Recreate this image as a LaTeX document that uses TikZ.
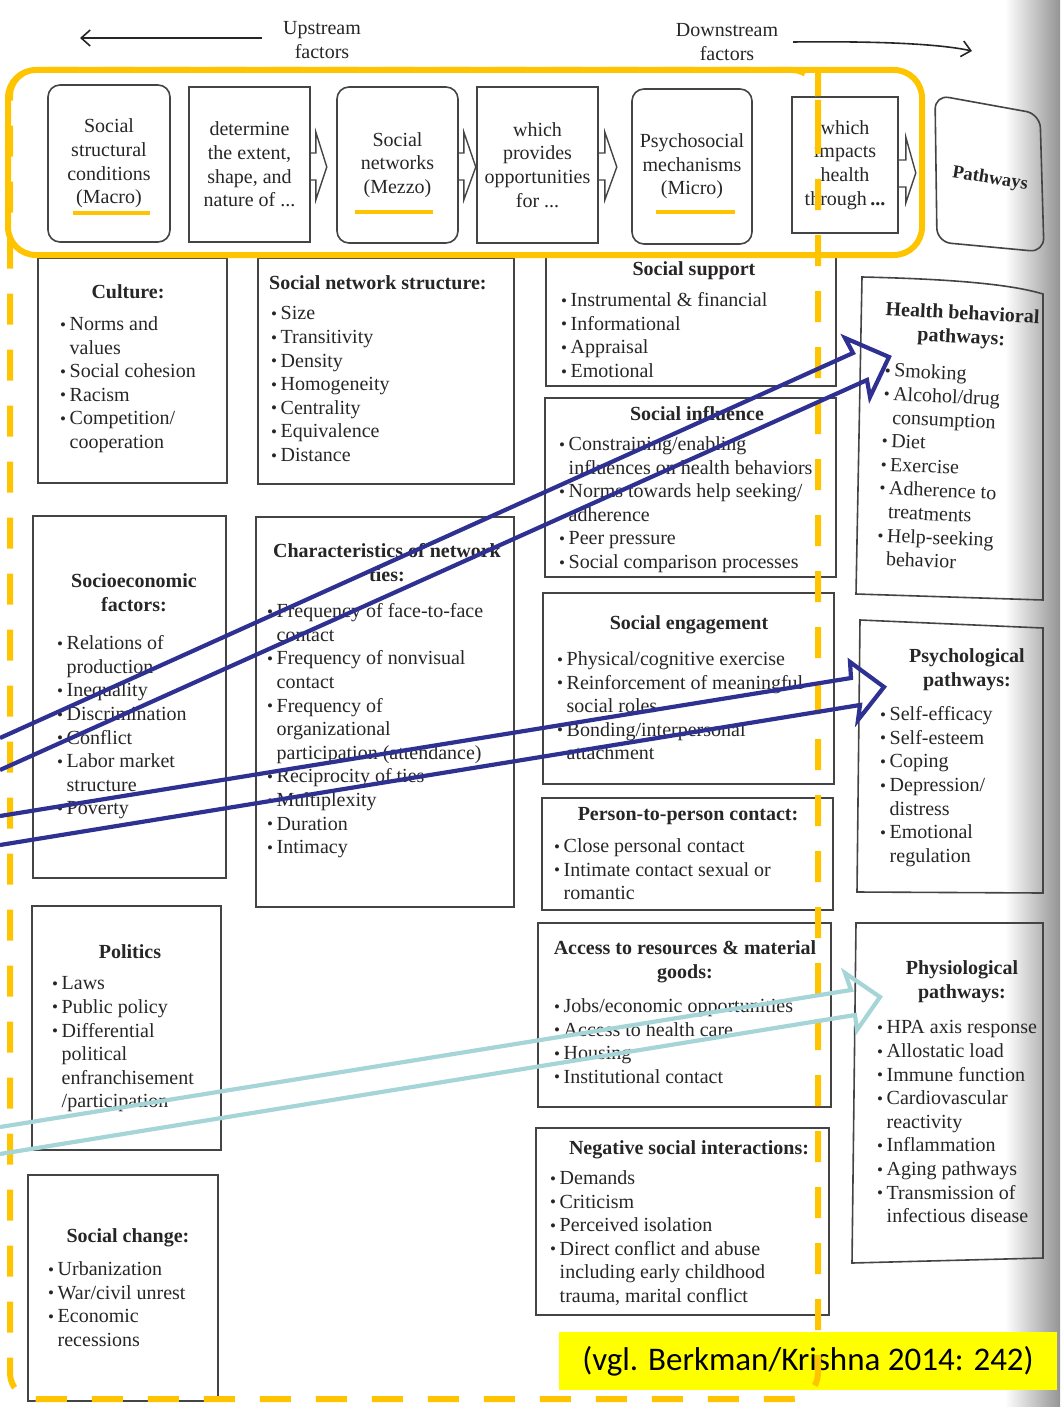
\documentclass[tikz,border=0pt]{standalone}
\usepackage{fontspec}
\setmainfont{Liberation Serif}
\newfontfamily\citefont{Carlito}
\usetikzlibrary{arrows.meta,fit}
\definecolor{ink}{HTML}{262626}
\definecolor{boxc}{HTML}{444444}
\definecolor{gold}{HTML}{FFC400}
\definecolor{navy}{RGB}{46,49,146}
\definecolor{lblue}{RGB}{166,213,216}
\definecolor{citey}{RGB}{255,255,0}
\newcommand\bul{\makebox[9.5pt][l]{\raisebox{0.5pt}{\fontsize{17}{17}\selectfont\textbullet}}}
\newcommand\indt{\hspace*{9.5pt}}
\begin{document}
\begin{tikzpicture}[x=1pt,y=-1pt,
  tx/.style={text=ink, inner sep=0pt, font=\fontsize{20}{23.6}\selectfont},
  lst/.style={tx, align=left, anchor=north west, yshift=6.5pt, execute at begin node=\strut},
  ttl/.style={tx, font=\fontsize{20}{23.6}\selectfont\bfseries, align=center, anchor=north, yshift=9.5pt, execute at begin node=\strut},
  ctr/.style={tx, align=center, anchor=north, yshift=5.5pt, execute at begin node=\strut},
  box/.style={draw=boxc, line width=1.6pt, inner sep=0pt},
  topbox/.style={box, tx, align=center},
  blk/.style={draw=boxc, line width=1.4pt, line join=miter},
  thinarr/.style={draw=ink, line width=1.6pt, -{Straight Barb[length=9pt,width=16pt]}},
  yel/.style={draw=gold, line width=6pt},
  yelund/.style={draw=gold, line width=4.5pt},
  dashyel/.style={yel, dash pattern=on 31pt off 25pt, rounded corners=26pt},
  navyarr/.style={draw=navy, line width=4.2pt, line join=miter, miter limit=20},
  lbluearr/.style={draw=lblue, line width=4.2pt, line join=miter, miter limit=20}
]
\useasboundingbox (0,0) rectangle (1060,1407);
\shade[left color=white, right color=black!42] (1005,0) rectangle (1060,1407);

% ---- header ----
\node[ctr] (up) at (322,27) {Upstream\\factors};
\node[ctr] (down) at (727,29) {Downstream\\factors};
\coordinate (upS) at (262,38);
\coordinate (upE) at (80,38);
\draw[thinarr] (upS) -- (upE);
\coordinate (dnS) at (793,42);
\coordinate (dnE) at (972,51);
\draw[thinarr] (dnS) .. controls (880,41) and (940,44) .. (dnE);

% ---- top row ----
\node[topbox, rounded corners=12pt, minimum width=122pt, minimum height=157pt] (b1) at (109,163.5) {Social\\structural\\conditions\\(Macro)};
\node[topbox, minimum width=121pt, minimum height=155pt] (b2) at (249.5,164.5) {determine\\the extent,\\shape, and\\nature of ...};
\node[topbox, rounded corners=12pt, minimum width=121pt, minimum height=156pt] (b3) at (397.5,165) {Social\\networks\\(Mezzo)};
\node[topbox, minimum width=121pt, minimum height=156pt] (b4) at (537.5,165) {which\\provides\\opportunities\\for ...};
\node[topbox, rounded corners=12pt, minimum width=120pt, minimum height=155pt] (b5) at (692,166.5) {Psychosocial\\mechanisms\\(Micro)};
\node[topbox, minimum width=106pt, minimum height=136pt] (b6) at (845,165) {which\\impacts\\health\\through\,\textbf{...}};

\draw[blk] ([yshift=11.5pt]b2.east) -- ++(5,0) -- ++(0,-21) -- ++(11,35) -- ++(-11,33) -- ++(0,-20) -- ++(-5,0);
\draw[blk] ([yshift=12pt]b3.east) -- ++(5,0) -- ++(0,-21) -- ++(12,35) -- ++(-12,33) -- ++(0,-20) -- ++(-5,0);
\draw[blk] ([yshift=12pt]b4.east) -- ++(6,0) -- ++(0,-21) -- ++(12,35) -- ++(-12,33) -- ++(0,-20) -- ++(-6,0);
\draw[blk] ([yshift=5pt]b6.east) -- ++(7,0) -- ++(0,-23) -- ++(10,36) -- ++(-10,30) -- ++(0,-16) -- ++(-7,0);

\draw[box, rounded corners=14pt] (935,95) -- (1040,114) -- (1044,252) -- (937,242) -- cycle;
\node[tx, font=\fontsize{18.5}{22}\selectfont\bfseries, rotate=-9] (path) at (990,179) {Pathways};

% ---- column 1 ----
\node[box, fit={(38,258) (227,483)}] (culture) {};
\node[ttl] (cultT) at (128,291) {Culture:};
\node[lst] (cultL) at (60,323) {\bul Norms and\\\indt values\\\bul Social cohesion\\\bul Racism\\\bul Competition/\\\indt cooperation};

\node[box, fit={(33,516) (226,878)}] (socio) {};
\node[ttl] (seT) at (134,583) {Socioeconomic\\factors:};
\node[lst] (seL) at (57,642) {\bul Relations of\\\indt production\\\bul Inequality\\\bul Discrimination\\\bul Conflict\\\bul Labor market\\\indt structure\\\bul Poverty};

\node[box, fit={(32,906) (221,1150)}] (politics) {};
\node[ttl] (polT) at (130,951) {Politics};
\node[lst] (polL) at (52,983) {\bul Laws\\\bul Public policy\\\bul Differential\\\indt political\\\indt enfranchisement\\\indt/participation};

\node[box, fit={(28,1175) (218,1401)}] (sochange) {};
\node[ttl] (scT) at (128,1235) {Social change:};
\node[lst] (scL) at (48,1268) {\bul Urbanization\\\bul War/civil unrest\\\bul Economic\\\indt recessions};

% ---- column 2 ----
\node[box, fit={(258,258) (514,484)}] (sns) {};
\node[ttl, anchor=north west] (snsT) at (269,282) {Social network structure:};
\node[lst] (snsL) at (271,313) {\bul Size\\\bul Transitivity\\\bul Density\\\bul Homogeneity\\\bul Centrality\\\bul Equivalence\\\bul Distance};

\node[box, fit={(256,517) (514,907)}] (chars) {};
\node[ttl] (chT) at (387,553) {Characteristics of network\\ties:};
\node[lst] (chL) at (267,610) {\bul Frequency of face-to-face\\\indt contact\\\bul Frequency of nonvisual\\\indt contact\\\bul Frequency of\\\indt organizational\\\indt participation (attendance)\\\bul Reciprocity of ties\\\bul Multiplexity\\\bul Duration\\\bul Intimacy};

% ---- column 3 ----
\node[box, fit={(546,255) (836,386)}] (ssup) {};
\node[ttl] (ssT) at (694,268) {Social support};
\node[lst] (ssL) at (561,299) {\bul Instrumental \& financial\\\bul Informational\\\bul Appraisal\\\bul Emotional};

\node[box, fit={(545,398) (836,577)}] (sinf) {};
\node[ttl] (siT) at (697,413) {Social influence};
\node[lst] (siL) at (559,443) {\bul Constraining/enabling\\\indt influences on health behaviors\\\bul Norms towards help seeking/\\\indt adherence\\\bul Peer pressure\\\bul Social comparison processes};

\node[box, fit={(543,593) (834,784)}] (seng) {};
\node[ttl] (sengT) at (689,622) {Social engagement};
\node[lst] (sengL) at (557,658) {\bul Physical/cognitive exercise\\\bul Reinforcement of meaningful\\\indt social roles\\\bul Bonding/interpersonal\\\indt attachment};

\node[box, fit={(542,798) (833,910)}] (ptp) {};
\node[ttl] (ppT) at (688,813) {Person-to-person contact:};
\node[lst] (ppL) at (554,845) {\bul Close personal contact\\\bul Intimate contact sexual or\\\indt romantic};

\node[box, fit={(538,923) (831,1107)}] (access) {};
\node[ttl] (acT) at (685,950) {Access to resources \& material\\goods:};
\node[lst] (acL) at (554,1005) {\bul Jobs/economic opportunities\\\bul Access to health care\\\bul Housing\\\bul Institutional contact};

\node[box, fit={(536,1128) (829,1315)}] (neg) {};
\node[ttl] (nsT) at (689,1147) {Negative social interactions:};
\node[lst] (nsL) at (550,1177) {\bul Demands\\\bul Criticism\\\bul Perceived isolation\\\bul Direct conflict and abuse\\\indt including early childhood\\\indt trauma, marital conflict};

% ---- column 4 ----
\draw[box] (862,277) .. controls (950,279) and (1010,284) .. (1043,294) -- (1043,600) -- (856,594) -- cycle;
\node[ttl, rotate=-3] (hbT) at (963,315) {Health behavioral\\pathways:};
\node[lst, rotate=-2.5] (hbL) at (885,369) {\bul Smoking\\\bul Alcohol/drug\\\indt consumption\\\bul Diet\\\bul Exercise\\\bul Adherence to\\\indt treatments\\\bul Help-seeking\\\indt behavior};

\draw[box] (860,620) -- (1043,628) -- (1043,893) -- (857,892) -- cycle;
\node[ttl] (psT) at (967,658) {Psychological\\pathways:};
\node[lst] (psL) at (880,713) {\bul Self-efficacy\\\bul Self-esteem\\\bul Coping\\\bul Depression/\\\indt distress\\\bul Emotional\\\indt regulation};

\draw[box] (856,923) -- (1043,923) -- (1043,1258) -- (852,1263) -- cycle;
\node[ttl] (phT) at (962,970) {Physiological\\pathways:};
\node[lst] (phL) at (877,1027) {\bul HPA axis response\\\bul Allostatic load\\\bul Immune function\\\bul Cardiovascular\\\indt reactivity\\\bul Inflammation\\\bul Aging pathways\\\bul Transmission of\\\indt infectious disease};

% ---- yellow overlays ----
\draw[yel, rounded corners=28pt] (8,70) rectangle (922,255);
\draw[yelund] (73,213) -- (150,213);
\draw[yelund] (355,212) -- (433,212);
\draw[yelund] (656,212) -- (735,212);

\node[fill=citey, minimum width=498pt, minimum height=58pt, inner sep=0pt, text=black, font=\citefont\fontsize{33}{36}\selectfont] (cite) at (808,1361) {(vgl. Berkman/Krishna 2014: 242)};

\draw[dashyel] (818,97) -- (818,1399) -- (10,1399) -- (10,70) -- (818,70) -- cycle;

% ---- big arrows ----
\coordinate (a1s) at (0,738);
\coordinate (a1e) at (0,770);
\coordinate (hbtip) at (889,357);
\draw[navyarr] (a1s) -- (853,353) -- (845,338) -- (hbtip) -- (870,397) -- (867,380) -- (a1e);

\coordinate (a2s) at (0,816);
\coordinate (a2e) at (0,845);
\coordinate (pstip) at (884,687);
\draw[navyarr] (a2s) -- (851,678) -- (850,662) -- (pstip) -- (858,720) -- (860,705) -- (a2e);

\coordinate (a3s) at (0,1127);
\coordinate (a3e) at (0,1154);
\coordinate (phtip) at (880,997);
\draw[lbluearr] (a3s) -- (851,990) -- (845,973) -- (phtip) -- (857,1030) -- (855,1015) -- (a3e);
\end{tikzpicture}
\end{document}
